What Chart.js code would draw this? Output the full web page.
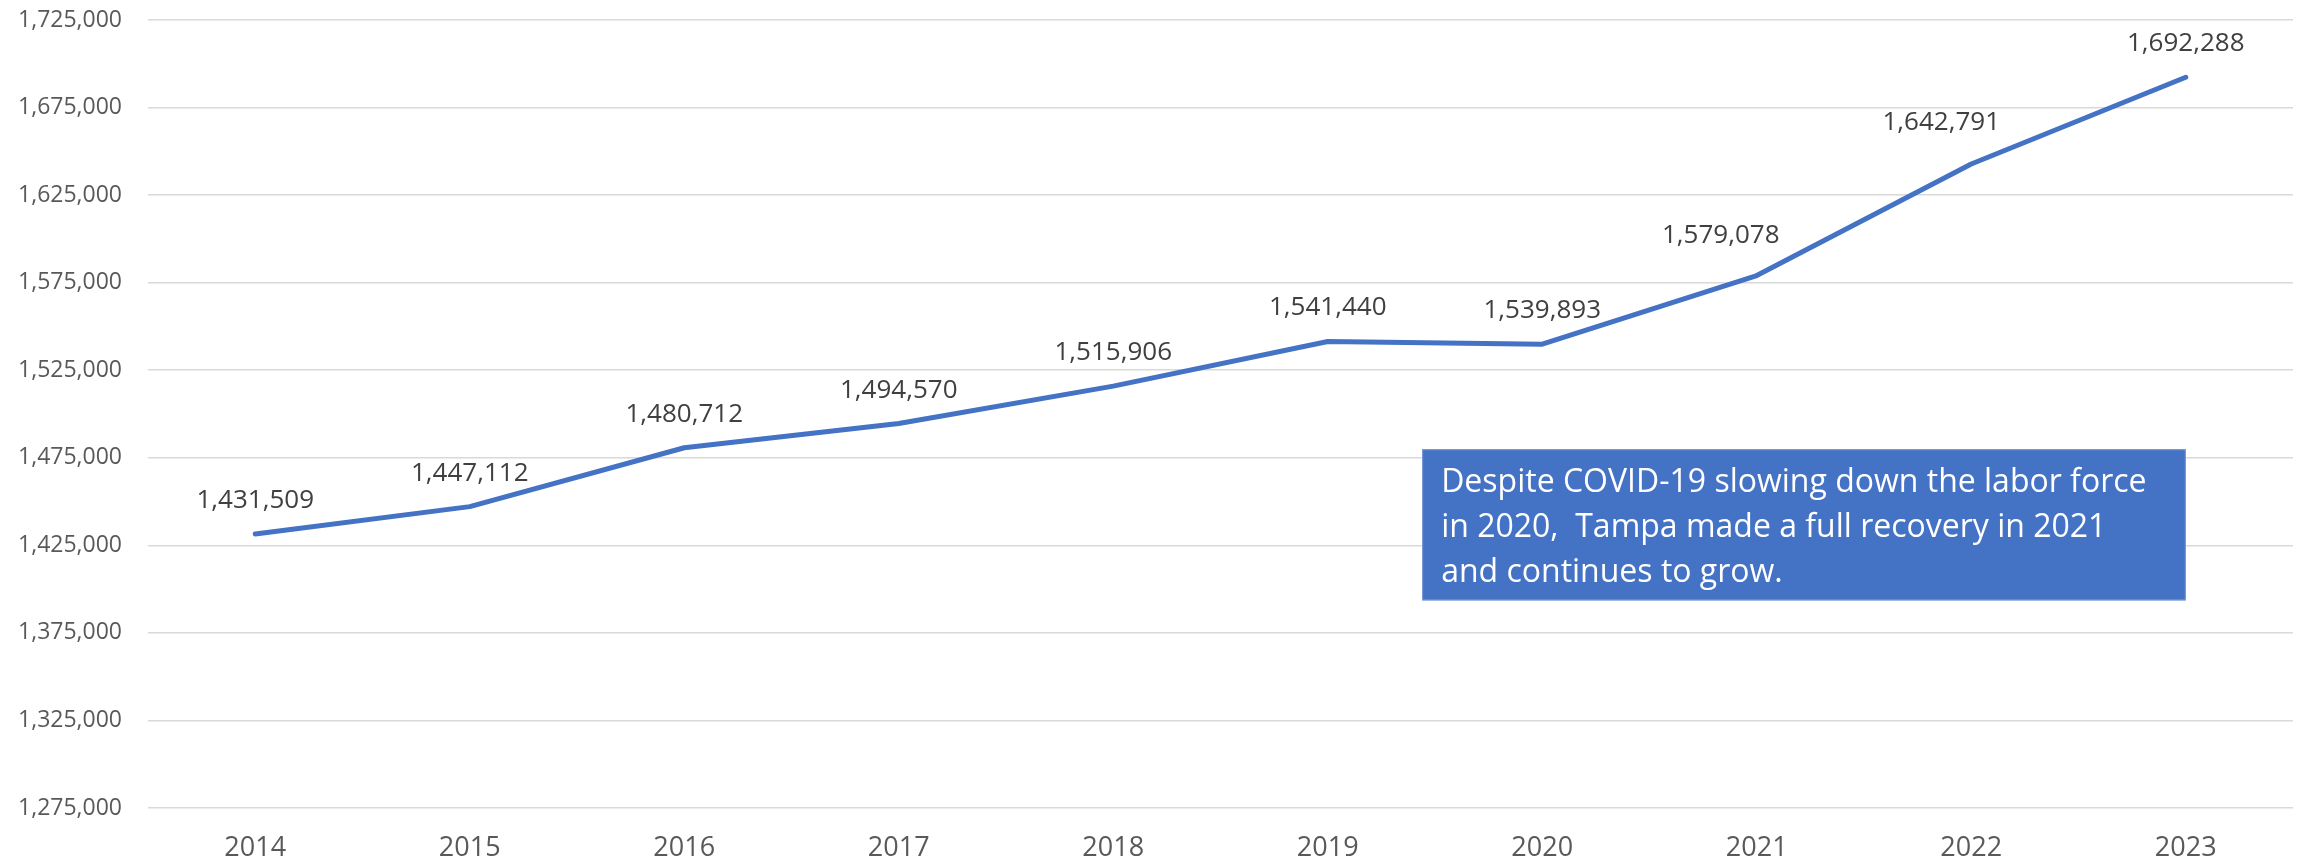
<!DOCTYPE html>
<html>
<head>
<meta charset="utf-8">
<script src="https://cdn.jsdelivr.net/npm/chart.js@4/dist/chart.umd.min.js"></script>
<style>
  html, body { margin: 0; padding: 0; background: #fff; }
  #wrap { width: 2298px; height: 865px; position: relative; }
</style>
</head>
<body>
<div id="wrap"><canvas id="laborChart"></canvas></div>
<script>
const years = ['2014', '2015', '2016', '2017', '2018', '2019', '2020', '2021', '2022', '2023'];
const laborForce = [1431509, 1447112, 1480712, 1494570, 1515906, 1541440, 1539893, 1579078, 1642791, 1692288];
const yMin = 1275000;
const yMax = 1725000;
const yStep = 50000;
const noteLines = [
  'Despite COVID-19 slowing down the labor force',
  'in 2020,  Tampa made a full recovery in 2021',
  'and continues to grow.'
];

const fontFamily = "'Open Sans', 'Liberation Sans', sans-serif";
const fmt = v => v.toLocaleString('en-US');

// value labels above each point (2021 and 2022 sit up-left, off the line)
const pointLabels = {
  id: 'pointLabels',
  afterDatasetsDraw(chart) {
    const ctx = chart.ctx;
    const meta = chart.getDatasetMeta(0);
    const nudge = { 7: [-36, -7], 8: [-30, -8] };
    ctx.save();
    ctx.font = `26px ${fontFamily}`;
    ctx.fillStyle = '#404040';
    ctx.textAlign = 'center';
    ctx.textBaseline = 'alphabetic';
    meta.data.forEach((pt, i) => {
      const [dx, dy] = nudge[i] || [0, 0];
      ctx.fillText(fmt(laborForce[i]), pt.x + dx, pt.y - 26 + dy);
    });
    ctx.restore();
  }
};

// the blue text box
const noteBox = {
  id: 'noteBox',
  afterDraw(chart) {
    const { ctx, scales: { x, y } } = chart;
    const left = x.getPixelForValue(5.44);
    const right = x.getPixelForValue(9.0);
    const top = y.getPixelForValue(1479857);
    const bottom = y.getPixelForValue(1393571);
    ctx.save();
    ctx.fillStyle = '#4472C4';
    ctx.fillRect(left, top, right - left, bottom - top);
    ctx.strokeStyle = '#7b9bd6';
    ctx.lineWidth = 1;
    ctx.strokeRect(left + 0.5, top + 0.5, right - left - 1, bottom - top - 1);

    ctx.font = `32px ${fontFamily}`;
    ctx.fillStyle = '#ffffff';
    ctx.textBaseline = 'alphabetic';
    const w = ctx.measureText(noteLines[0]).width;
    const sx = Math.min(1, 719 / w);
    noteLines.forEach((line, i) => {
      ctx.save();
      ctx.translate(left + 19, top + 43 + i * 45);
      ctx.scale(sx, 1);
      ctx.fillText(line, 0, 0);
      ctx.restore();
    });
    ctx.restore();
  }
};

const ctx = document.getElementById('laborChart').getContext('2d');
new Chart(ctx, {
  type: 'line',
  data: {
    labels: years,
    datasets: [{
      label: 'Labor Force',
      data: laborForce,
      borderColor: '#4472C4',
      borderWidth: 5,
      borderCapStyle: 'round',
      borderJoinStyle: 'round',
      pointRadius: 0,
      tension: 0,
      fill: false
    }]
  },
  options: {
    responsive: true,
    maintainAspectRatio: false,
    animation: false,
    layout: { padding: { top: 0, right: 5, left: 0, bottom: 0 } },
    scales: {
      x: {
        offset: true,
        grid: { display: false, drawTicks: false },
        border: { display: false },
        ticks: {
          color: '#595959',
          padding: 24,
          font: { family: fontFamily, size: 27 }
        },
        afterFit(scale) { scale.height = 57; }
      },
      y: {
        min: yMin,
        max: yMax,
        grid: { color: '#d9d9d9', lineWidth: 1.5, drawTicks: false },
        border: { display: false },
        ticks: {
          stepSize: yStep,
          color: '#595959',
          padding: 26,
          font: { family: fontFamily, size: 23 },
          callback: v => fmt(v)
        },
        afterFit(scale) {
          scale.width = 148;
          scale.paddingTop = 20;
          scale.paddingBottom = 0;
        }
      }
    },
    plugins: {
      legend: { display: false },
      tooltip: { enabled: false }
    }
  },
  plugins: [pointLabels, noteBox]
});
</script>
</body>
</html>
